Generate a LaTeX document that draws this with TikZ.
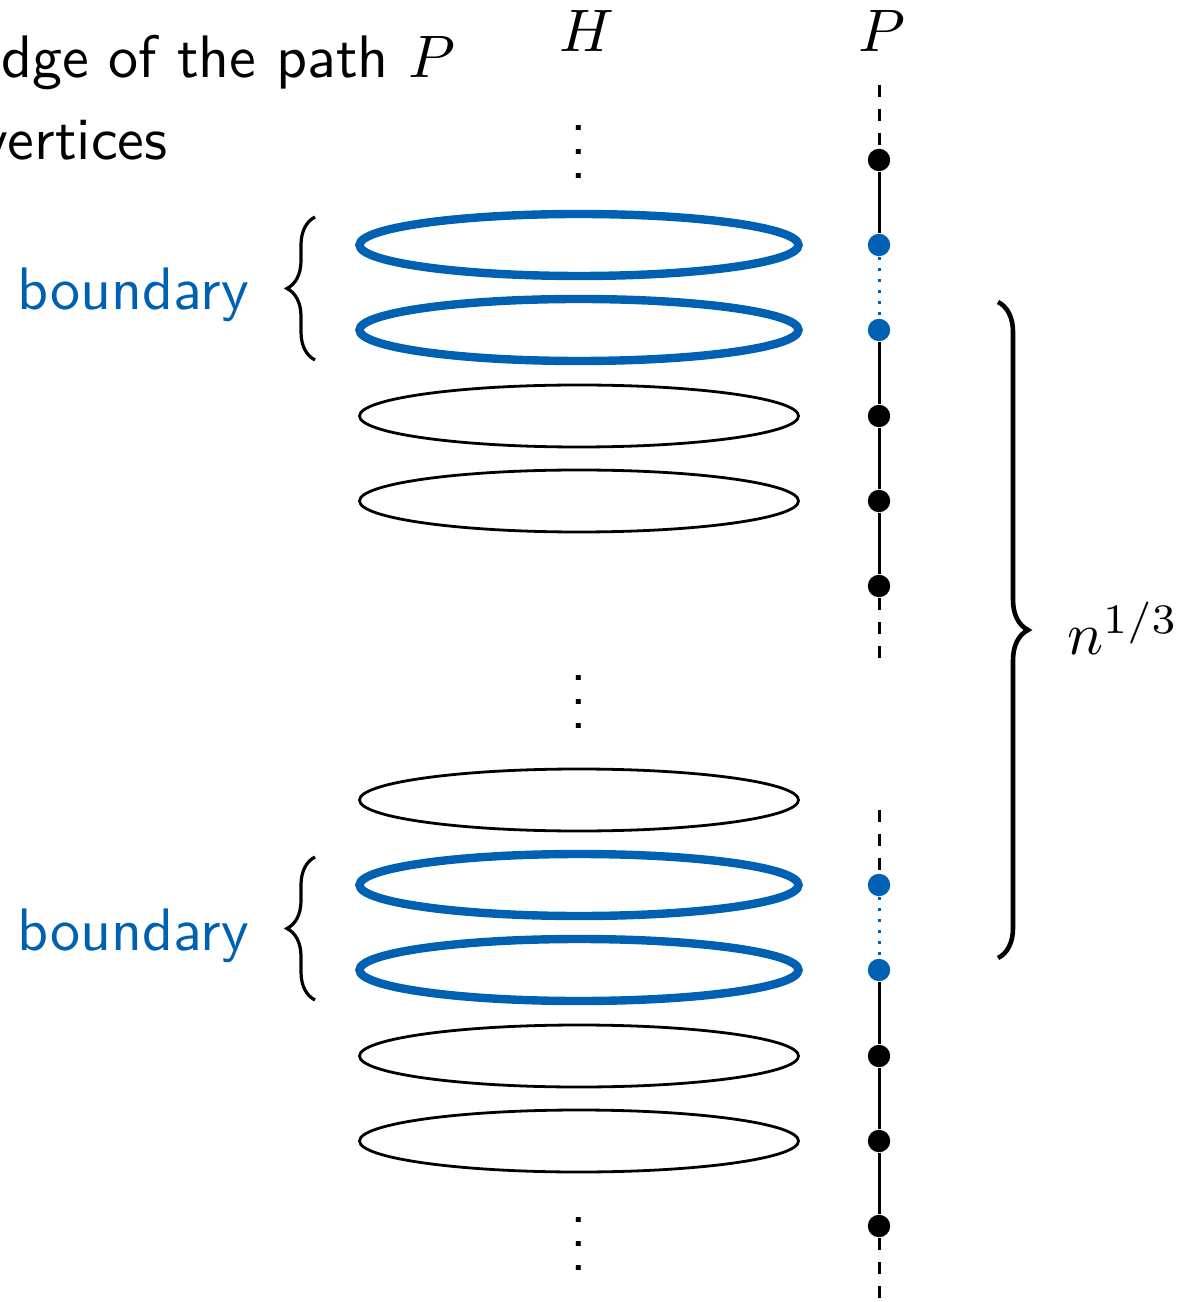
\documentclass[tikz,border=0pt]{standalone}
\usetikzlibrary{decorations.pathreplacing,shapes.geometric}
\definecolor{pblue}{RGB}{0,96,178}
\begin{document}
\begin{tikzpicture}[x=0.25pt,y=-0.25pt,
  lbl/.style={inner sep=0pt,scale=1.5,font=\sffamily},
  ring/.style={ellipse,draw=black,line width=0.7pt,inner sep=0pt,minimum width=109.75pt,minimum height=15.5pt},
  bring/.style={ellipse,draw=pblue,line width=2.1pt,inner sep=0pt,minimum width=109.75pt,minimum height=15.5pt},
  vtx/.style={circle,fill=black,inner sep=0pt,minimum size=5.6pt},
  bvtx/.style={circle,fill=pblue,inner sep=0pt,minimum size=5.6pt},
  pedge/.style={line width=0.75pt},
  dedge/.style={line width=0.75pt,dashed},
  bedge/.style={line width=0.75pt,pblue,dotted},
  bracestyle/.style={decorate,decoration={brace,amplitude=#1}}]
\useasboundingbox (0,0) rectangle (1193,1302);
\clip (0,0) rectangle (1193,1302);
% legend (cut off)
\node[lbl,anchor=base east] (leg1) at (457,78) {dge of the path $P$};
\node[lbl,anchor=base west] (leg2) at (-21,160) {vertices};
% headings
\node[lbl,anchor=base] (H) at (587,52) {$H$};
\node[lbl,anchor=base] (Plab) at (882,52) {$P$};
% vdots
\node[lbl,anchor=base] (d1) at (579,179) {$\vdots$};
\node[lbl,anchor=base] (d2) at (579,728) {$\vdots$};
\node[lbl,anchor=base] (d3) at (579,1270) {$\vdots$};
% ellipses
\node[bring] (e1) at (579,245) {};
\node[bring] (e2) at (579,330) {};
\node[ring] (e3) at (579,416) {};
\node[ring] (e4) at (579,501) {};
\node[ring] (e5) at (579,800) {};
\node[bring] (e6) at (579,885) {};
\node[bring] (e7) at (579,970) {};
\node[ring] (e8) at (579,1056) {};
\node[ring] (e9) at (579,1141) {};
% path P
\coordinate (t0) at (879,85);
\coordinate (t1) at (879,660);
\coordinate (t2) at (879,810);
\coordinate (t3) at (879,1310);
\node[vtx] (p1) at (879,160) {};
\node[bvtx] (p2) at (879,245) {};
\node[bvtx] (p3) at (879,330) {};
\node[vtx] (p4) at (879,416) {};
\node[vtx] (p5) at (879,501) {};
\node[vtx] (p6) at (879,586) {};
\node[bvtx] (q1) at (879,885) {};
\node[bvtx] (q2) at (879,970) {};
\node[vtx] (q3) at (879,1056) {};
\node[vtx] (q4) at (879,1141) {};
\node[vtx] (q5) at (879,1226) {};
\draw[dedge] (t0) -- (p1);
\draw[pedge] (p1) -- (p2);
\draw[bedge] (p2) -- (p3);
\draw[pedge] (p3) -- (p4) -- (p5) -- (p6);
\draw[dedge] (p6) -- (t1);
\draw[dedge] (t2) -- (q1);
\draw[bedge] (q1) -- (q2);
\draw[pedge] (q2) -- (q3) -- (q4) -- (q5);
\draw[dedge] (q5) -- (t3);
% braces
\coordinate (b1a) at (315,360);
\coordinate (b1b) at (315,217);
\coordinate (b2a) at (315,1000);
\coordinate (b2b) at (315,857);
\coordinate (b3a) at (998,302);
\coordinate (b3b) at (998,958);
\draw[bracestyle=7pt,line width=0.8pt] (b1a) -- (b1b);
\draw[bracestyle=7pt,line width=0.8pt] (b2a) -- (b2b);
\draw[bracestyle=7.5pt,line width=1.15pt] (b3a) -- (b3b);
\node[lbl,anchor=base east,text=pblue] (bd1) at (250,310) {boundary};
\node[lbl,anchor=base east,text=pblue] (bd2) at (250,950) {boundary};
\node[lbl,anchor=base west] (nlab) at (1066,655) {$n^{1/3}$};
\end{tikzpicture}
\end{document}
